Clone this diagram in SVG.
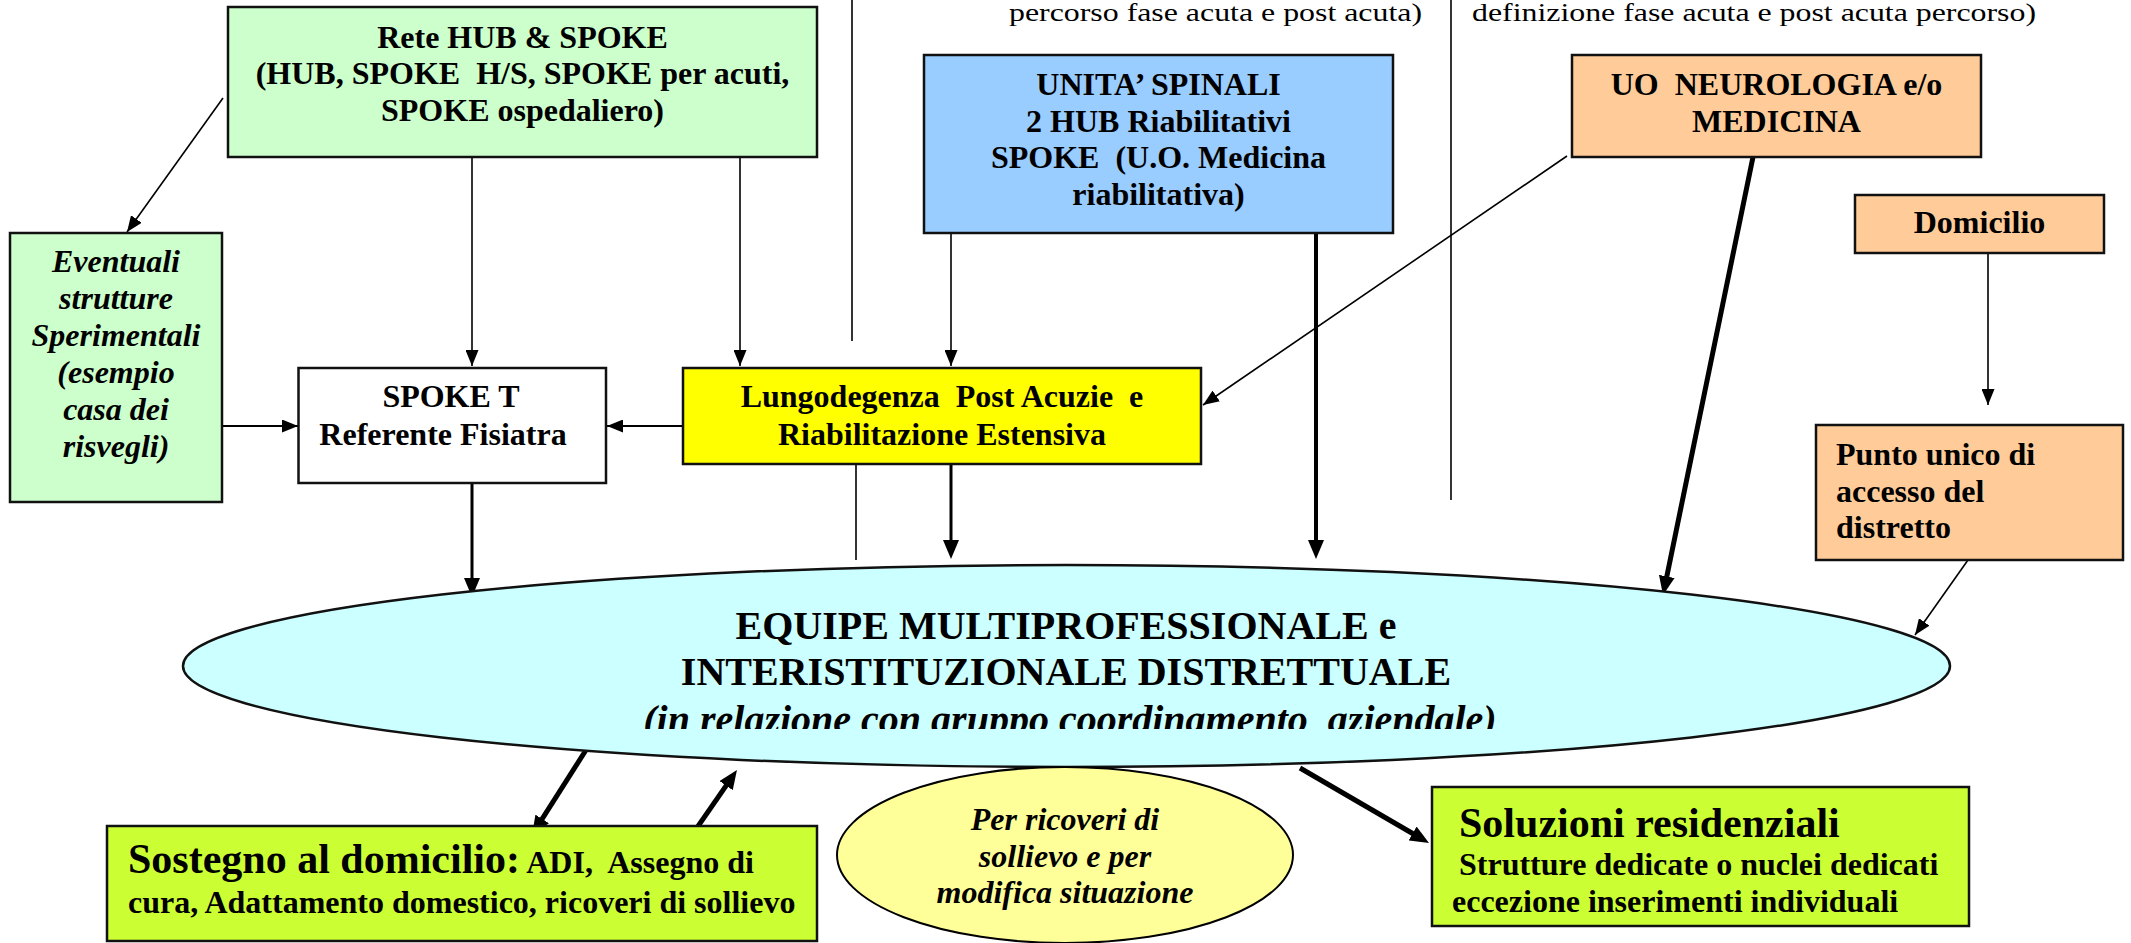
<svg xmlns="http://www.w3.org/2000/svg" width="2131" height="943" viewBox="0 0 2131 943">
<style>
text{font-family:"Liberation Serif","Times New Roman",serif;font-weight:bold;font-size:32px;fill:#000}
.c{text-anchor:middle}
.i{font-style:italic}
.n{font-weight:normal;font-size:26px}
.big{font-size:42px}
.eq{font-size:40px}
.box{stroke:#111;stroke-width:2.5}
.thin{stroke:#000;stroke-width:1.6;fill:none}
.med{stroke:#000;stroke-width:2.2;fill:none}
.t3{stroke:#000;stroke-width:3;fill:none}
.t4{stroke:#000;stroke-width:4;fill:none}
.t5{stroke:#000;stroke-width:5;fill:none}
</style>
<defs>
<marker id="a" markerUnits="userSpaceOnUse" markerWidth="16" markerHeight="13" refX="16" refY="6.5" orient="auto"><path d="M0,0 L16,6.5 L0,13 z" fill="#000"/></marker>
<marker id="b" markerUnits="userSpaceOnUse" markerWidth="19" markerHeight="16" refX="11" refY="8" orient="auto"><path d="M0,0 L19,8 L0,16 z" fill="#000"/></marker>
<clipPath id="clipEq"><rect x="0" y="0" width="2131" height="729"/></clipPath>
</defs>
<rect width="2131" height="943" fill="#fff"/>

<g id="top-notes">
<text class="n" x="1009" y="21" textLength="413" lengthAdjust="spacingAndGlyphs">percorso fase acuta e post acuta)</text>
<text class="n" x="1472" y="21" textLength="564" lengthAdjust="spacingAndGlyphs">definizione fase acuta e post acuta percorso)</text>
</g>

<g id="connectors">
<line class="thin" x1="852" y1="0" x2="852" y2="341"/>
<line class="thin" x1="856" y1="464" x2="856" y2="560"/>
<line class="thin" x1="1451" y1="0" x2="1451" y2="500"/>
<line class="thin" x1="223" y1="98" x2="127" y2="232" marker-end="url(#a)"/>
<line class="thin" x1="472" y1="157" x2="472" y2="366" marker-end="url(#a)"/>
<line class="thin" x1="740" y1="157" x2="740" y2="366" marker-end="url(#a)"/>
<line class="med" x1="222" y1="426" x2="298" y2="426" marker-end="url(#a)"/>
<line class="med" x1="683" y1="426" x2="607" y2="426" marker-end="url(#a)"/>
<line class="t3" x1="472" y1="483" x2="472" y2="589" marker-end="url(#b)"/>
<line class="thin" x1="951" y1="233" x2="951" y2="366" marker-end="url(#a)"/>
<line class="t3" x1="951" y1="464" x2="951" y2="551" marker-end="url(#b)"/>
<line class="t4" x1="1316" y1="233" x2="1316" y2="551" marker-end="url(#b)"/>
<line class="thin" x1="1567" y1="156" x2="1203" y2="405" marker-end="url(#a)"/>
<line class="t5" x1="1753" y1="157" x2="1664.6" y2="587.2" marker-end="url(#b)"/>
<line class="thin" x1="1988" y1="253" x2="1988" y2="405" marker-end="url(#a)"/>
<line class="thin" x1="1968" y1="560" x2="1915" y2="635" marker-end="url(#a)"/>
<line class="t5" x1="586" y1="750" x2="536.3" y2="828.2" marker-end="url(#b)"/>
<line class="t5" x1="685" y1="845" x2="732.4" y2="776.6" marker-end="url(#b)"/>
<line class="t5" x1="1300" y1="768" x2="1422.1" y2="839" marker-end="url(#b)"/>
</g>

<g id="rete">
<rect class="box" x="228" y="7" width="589" height="150" fill="#ccffcc"/>
<text class="c" x="522.5" y="48">Rete HUB &amp; SPOKE</text>
<text class="c" x="522.5" y="84" xml:space="preserve">(HUB, SPOKE  H/S, SPOKE per acuti,</text>
<text class="c" x="522.5" y="121">SPOKE ospedaliero)</text>
</g>

<g id="eventuali">
<rect class="box" x="10" y="233" width="212" height="269" fill="#ccffcc"/>
<text class="c i" x="116" y="272">Eventuali</text>
<text class="c i" x="116" y="309">strutture</text>
<text class="c i" x="116" y="346">Sperimentali</text>
<text class="c i" x="116" y="383">(esempio</text>
<text class="c i" x="116" y="420">casa dei</text>
<text class="c i" x="116" y="457">risvegli)</text>
</g>

<g id="spoke-t">
<rect class="box" x="298.5" y="368" width="307.5" height="115" fill="#fff"/>
<text class="c" x="451" y="407">SPOKE T</text>
<text class="c" x="443" y="445">Referente Fisiatra</text>
</g>

<g id="lungodegenza">
<rect class="box" x="683" y="368" width="518" height="96" fill="#ffff00"/>
<text class="c" x="942" y="407" xml:space="preserve">Lungodegenza  Post Acuzie  e</text>
<text class="c" x="942" y="445">Riabilitazione Estensiva</text>
</g>

<g id="unita-spinali">
<rect class="box" x="924" y="55" width="469" height="178" fill="#99ccff"/>
<text class="c" x="1158.5" y="95">UNITA’ SPINALI</text>
<text class="c" x="1158.5" y="132">2 HUB Riabilitativi</text>
<text class="c" x="1158.5" y="168" xml:space="preserve">SPOKE  (U.O. Medicina</text>
<text class="c" x="1158.5" y="205">riabilitativa)</text>
</g>

<g id="uo-neurologia">
<rect class="box" x="1572" y="55" width="409" height="102" fill="#ffcc99"/>
<text class="c" x="1776.5" y="95" xml:space="preserve">UO  NEUROLOGIA e/o</text>
<text class="c" x="1776.5" y="132">MEDICINA</text>
</g>

<g id="domicilio">
<rect class="box" x="1855" y="195" width="249" height="58" fill="#ffcc99"/>
<text class="c" x="1979.5" y="233">Domicilio</text>
</g>

<g id="punto-unico">
<rect class="box" x="1816" y="425" width="307" height="135" fill="#ffcc99"/>
<text x="1836" y="465">Punto unico di</text>
<text x="1836" y="502">accesso del</text>
<text x="1836" y="538">distretto</text>
</g>

<g id="equipe">
<ellipse class="box" cx="1066.5" cy="666" rx="883.5" ry="101" fill="#ccffff"/>
<text class="c eq" x="1066" y="639">EQUIPE MULTIPROFESSIONALE e</text>
<text class="c eq" x="1066" y="685">INTERISTITUZIONALE DISTRETTUALE</text>
<text class="c eq i" x="1070" y="733" clip-path="url(#clipEq)" xml:space="preserve">(in relazione con gruppo coordinamento  aziendale)</text>
</g>

<g id="ricoveri-sollievo">
<ellipse cx="1065" cy="855" rx="228" ry="88" fill="#ffff99" stroke="#000" stroke-width="2"/>
<text class="c i" x="1065" y="830">Per ricoveri di</text>
<text class="c i" x="1065" y="867">sollievo e per</text>
<text class="c i" x="1065" y="903">modifica situazione</text>
</g>

<g id="sostegno-domicilio">
<rect class="box" x="107" y="826" width="710" height="115" fill="#ccff33"/>
<text x="128" y="873" xml:space="preserve"><tspan class="big">Sostegno al domicilio:</tspan> ADI,  Assegno di</text>
<text x="128" y="913">cura, Adattamento domestico, ricoveri di sollievo</text>
</g>

<g id="soluzioni-residenziali">
<rect class="box" x="1432" y="787" width="537" height="139" fill="#ccff33"/>
<text class="big" x="1459" y="837">Soluzioni residenziali</text>
<text x="1459" y="875">Strutture dedicate o nuclei dedicati</text>
<text x="1452" y="912">eccezione inserimenti individuali</text>
</g>
</svg>
